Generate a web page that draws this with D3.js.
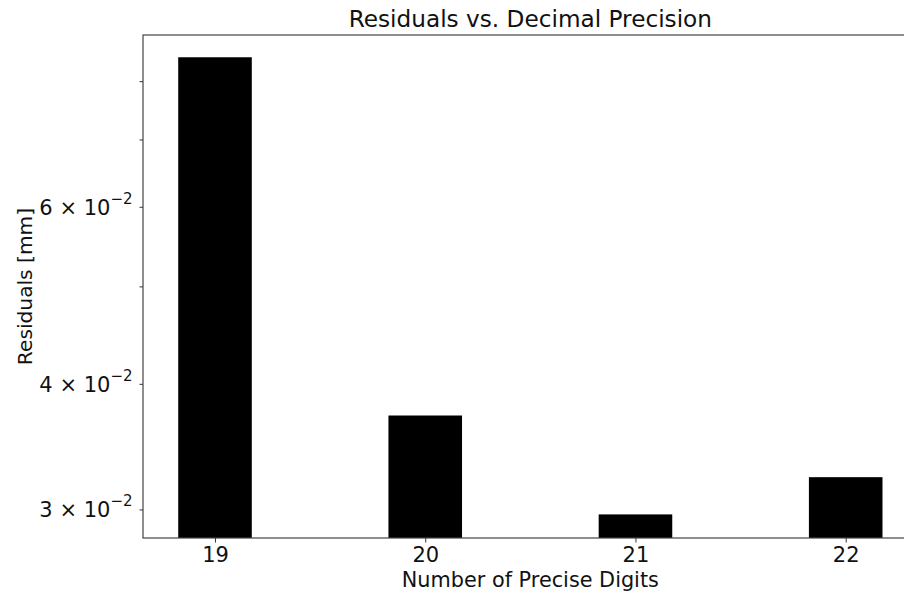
<!DOCTYPE html>
<html>
<head>
<meta charset="utf-8">
<script src="https://cdn.jsdelivr.net/npm/d3@7"></script>
<style>
  body { margin: 0; background: #fff; }
  text { font-family: "DejaVu Sans", sans-serif; fill: #111; }
</style>
</head>
<body>
<div id="chart"></div>
<script>
// data
var digits = [19, 20, 21, 22];
var residuals = [0.0845, 0.0372, 0.02966, 0.0323];
var yTicks = [0.03, 0.04, 0.05, 0.06, 0.07, 0.08];
var yLabelled = {0.03: "3", 0.04: "4", 0.06: "6"};

var W = 904, H = 593;
var margin = {top: 35, left: 143, bottom: 55};
var height = H - margin.top - margin.bottom;

// x limits as matplotlib pads bars of width 0.35
var x = d3.scaleLinear()
    .domain([18.6575, 22.3425])
    .range([0, 774.7]);

var y = d3.scaleLog()
    .domain([0.02810, 0.08892])
    .range([height, 0]);

var svg = d3.select("#chart").append("svg")
    .attr("width", W)
    .attr("height", H)
  .append("g")
    .attr("transform", "translate(" + margin.left + "," + margin.top + ")");

// bars
svg.selectAll("rect.bar")
    .data(digits)
    .enter().append("rect")
    .attr("class", "bar")
    .attr("x", function(d) { return x(d - 0.175); })
    .attr("width", function(d) { return x(d + 0.175) - x(d - 0.175); })
    .attr("y", function(d, i) { return y(residuals[i]); })
    .attr("height", function(d, i) { return height - y(residuals[i]); })
    .attr("fill", "#000");

// x axis
var xa = svg.append("g")
    .attr("transform", "translate(0," + height + ")")
    .call(d3.axisBottom(x).tickValues(digits).tickFormat(d3.format("d"))
        .tickSizeInner(4.5).tickSizeOuter(0).tickPadding(5));
xa.selectAll("text").attr("font-size", "21px").attr("dy", "0.71em");

// y axis
var ya = svg.append("g")
    .call(d3.axisLeft(y).tickValues(yTicks).tickFormat(function() { return ""; })
        .tickSizeInner(3.5).tickSizeOuter(0).tickPadding(7));
ya.selectAll(".tick text")
    .attr("font-size", "21px")
    .attr("dy", "0.36em")
    .each(function(d) {
        var lab = yLabelled[d];
        if (!lab) return;
        var t = d3.select(this);
        t.append("tspan").text(lab + " \u00d7 10");
        t.append("tspan").attr("font-size", "15px").attr("dy", "-0.75em").text("\u22122");
    });

// frame
svg.selectAll(".domain").remove();
svg.selectAll(".tick line").attr("stroke", "#333");
svg.append("rect")
    .attr("x", 0).attr("y", 0)
    .attr("width", x.range()[1]).attr("height", height)
    .attr("fill", "none").attr("stroke", "#444").attr("stroke-width", 1.2);

// title and axis labels
svg.append("text")
    .attr("x", x.range()[1] / 2).attr("y", -8.5)
    .attr("text-anchor", "middle").attr("font-size", "23.2px")
    .text("Residuals vs. Decimal Precision");

svg.append("text")
    .attr("x", x.range()[1] / 2).attr("y", height + 49)
    .attr("text-anchor", "middle").attr("font-size", "20.8px")
    .text("Number of Precise Digits");

svg.append("text")
    .attr("transform", "translate(" + (32 - margin.left) + "," + (height / 2) + ") rotate(-90)")
    .attr("text-anchor", "middle").attr("font-size", "20.2px")
    .text("Residuals [mm]");
</script>
</body>
</html>
